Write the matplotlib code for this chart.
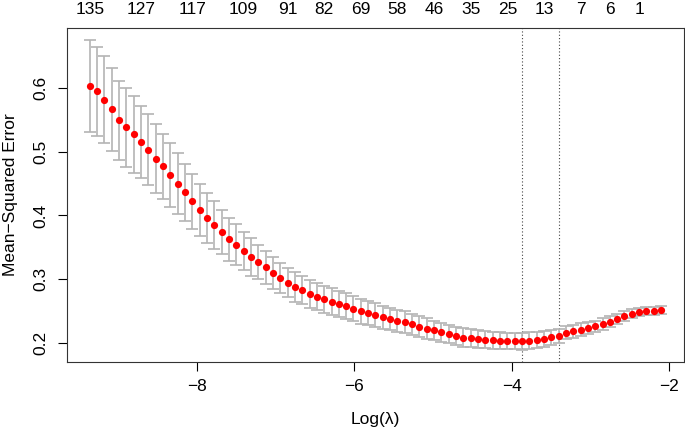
import matplotlib.pyplot as plt
import numpy as np

plt.rcParams['font.family'] = ['Liberation Sans', 'DejaVu Sans']

# log(lambda) grid of the cv fit (left = smallest lambda)
log_lambda = [
    -9.361, -9.268, -9.175, -9.082, -8.989, -8.895, -8.802, -8.709, -8.616, -8.523,
    -8.430, -8.337, -8.244, -8.151, -8.057, -7.964, -7.871, -7.778, -7.685, -7.592,
    -7.499, -7.406, -7.313, -7.219, -7.126, -7.033, -6.940, -6.847, -6.754, -6.661,
    -6.568, -6.474, -6.381, -6.288, -6.195, -6.102, -6.009, -5.916, -5.823, -5.730,
    -5.636, -5.543, -5.450, -5.357, -5.264, -5.171, -5.078, -4.985, -4.892, -4.798,
    -4.705, -4.612, -4.519, -4.426, -4.333, -4.240, -4.147, -4.053, -3.960, -3.867,
    -3.774, -3.681, -3.588, -3.495, -3.402, -3.309, -3.215, -3.122, -3.029, -2.936,
    -2.843, -2.750, -2.657, -2.564, -2.471, -2.377, -2.284, -2.191, -2.098,
]

# cross-validated mean squared error
cvm = [
    0.602, 0.594, 0.581, 0.566, 0.549, 0.538, 0.527, 0.515, 0.503, 0.489,
    0.477, 0.463, 0.450, 0.436, 0.422, 0.409, 0.396, 0.385, 0.374, 0.363,
    0.354, 0.344, 0.335, 0.327, 0.319, 0.310, 0.302, 0.295, 0.288, 0.283,
    0.277, 0.273, 0.269, 0.265, 0.261, 0.258, 0.254, 0.250, 0.247, 0.244,
    0.241, 0.238, 0.235, 0.233, 0.230, 0.226, 0.223, 0.220, 0.217, 0.2145,
    0.211, 0.209, 0.208, 0.2067, 0.2058, 0.2047, 0.2042, 0.2036, 0.2035, 0.2030,
    0.2042, 0.2051, 0.2067, 0.2093, 0.2120, 0.2165, 0.2190, 0.2212, 0.2235, 0.2265,
    0.2300, 0.2340, 0.2380, 0.2425, 0.2460, 0.2490, 0.2500, 0.2510, 0.2525,
]

# standard error of cvm
cvsd = [
    0.072, 0.070, 0.068, 0.065, 0.062, 0.0615, 0.060, 0.057, 0.056, 0.054,
    0.051, 0.050, 0.0475, 0.045, 0.043, 0.041, 0.039, 0.037, 0.035, 0.0335,
    0.032, 0.030, 0.029, 0.027, 0.026, 0.025, 0.024, 0.023, 0.023, 0.022,
    0.022, 0.0215, 0.021, 0.021, 0.0205, 0.020, 0.0198, 0.0195, 0.019, 0.0185,
    0.018, 0.0178, 0.0175, 0.017, 0.0165, 0.016, 0.0158, 0.0155, 0.015, 0.0148,
    0.0145, 0.0143, 0.014, 0.0138, 0.0136, 0.0135, 0.0133, 0.0132, 0.013, 0.013,
    0.0128, 0.0125, 0.012, 0.0115, 0.011, 0.0105, 0.010, 0.0098, 0.0095, 0.009,
    0.0088, 0.0085, 0.008, 0.0075, 0.007, 0.0068, 0.0065, 0.0062, 0.006,
]

# number of nonzero coefficients shown on the top axis
nz_labels = ['135', '127', '117', '109', '91', '82', '69', '58', '46', '35', '25', '13', '7', '6', '1']
nz_idx = [0, 7, 14, 21, 27, 32, 37, 42, 47, 52, 57, 62, 67, 71, 75]

x = np.array(log_lambda)
m = np.array(cvm)
s = np.array(cvsd)

i_min = int(np.argmin(m))
thresh = m[i_min] + s[i_min]
i_1se = int(np.where(m <= thresh)[0].max())

fs = 12.5

fig = plt.figure(figsize=(6.85, 4.32), dpi=100)
ax = fig.add_axes([0.0978, 0.162, 0.9007, 0.7732])

ax.errorbar(x, m, yerr=s, fmt='none', ecolor='#b4b4b4', elinewidth=1.2,
            capsize=4.2, capthick=1.2, zorder=2)
ax.plot(x, m, 'o', color='red', markersize=5.2, markeredgewidth=0, zorder=3)

for xv in (x[i_min], x[i_1se]):
    ax.axvline(xv, color='#444444', lw=0.8, linestyle=(0, (1, 2)), zorder=1)

# R-style 4% padding
xr = x.max() - x.min()
ax.set_xlim(x.min() - 0.04 * xr, x.max() + 0.04 * xr)
lo = (m - s).min()
hi = (m + s).max()
yr = hi - lo
ax.set_ylim(lo - 0.04 * yr, hi + 0.04 * yr)

ax.set_xticks([-8, -6, -4, -2])
ax.set_yticks([0.2, 0.3, 0.4, 0.5, 0.6])
ax.set_yticklabels(['0.2', '0.3', '0.4', '0.5', '0.6'], rotation=90, va='center')
ax.tick_params(axis='both', direction='out', length=6.5, width=0.8, labelsize=fs)
ax.tick_params(axis='x', pad=6)
ax.tick_params(axis='y', pad=7)
for sp in ax.spines.values():
    sp.set_linewidth(0.8)
    sp.set_color('#333333')

top = ax.secondary_xaxis('top')
top.set_xticks(x[nz_idx], nz_labels)
top.tick_params(length=0, pad=8, labelsize=fs)
top.spines['top'].set_visible(False)

ax.set_xlabel('Log(λ)', fontsize=fs, labelpad=13)
ax.set_ylabel('Mean\u2212Squared Error', fontsize=fs, labelpad=11)

fig.savefig('out.png', dpi=100)
